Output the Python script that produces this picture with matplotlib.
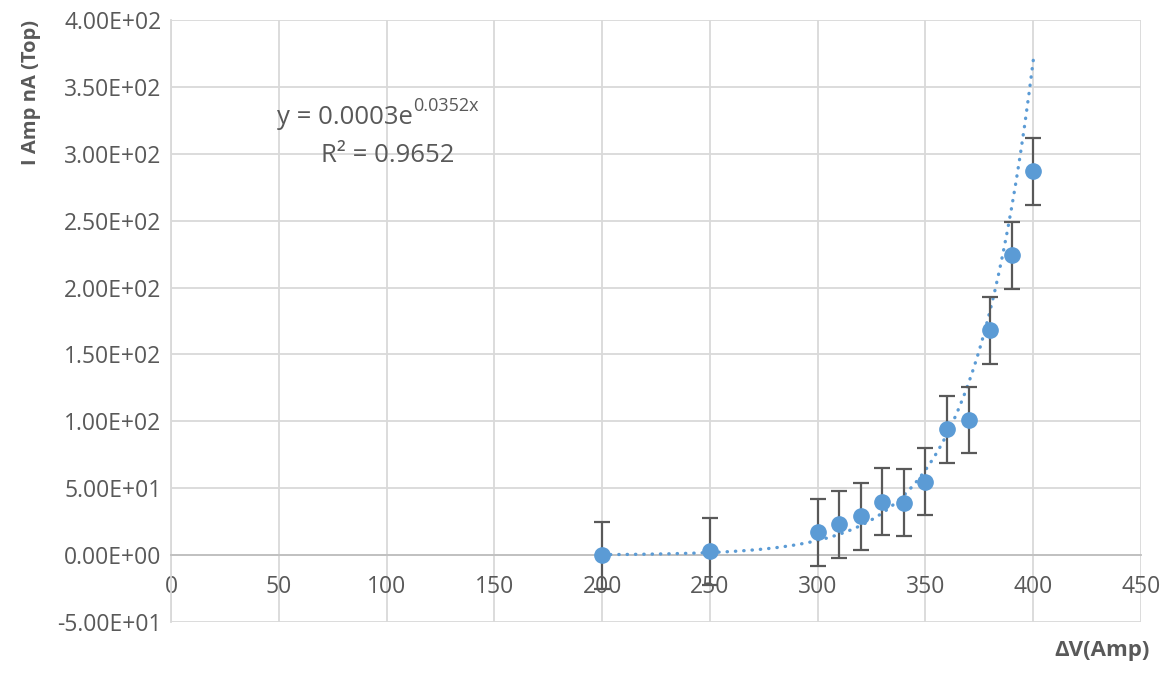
import numpy as np
import matplotlib.pyplot as plt
from matplotlib.ticker import FuncFormatter

plt.rcParams['font.family'] = ['Open Sans', 'DejaVu Sans']

# data
dv = [200, 250, 300, 310, 320, 330, 340, 350, 360, 370, 380, 390, 400]
current = [0, 3, 17, 23, 29, 40, 39, 55, 94, 101, 168, 224, 287]
err = [25] * len(dv)

# exponential trend line shown on the chart
trend_a = 0.000284
trend_b = 0.0352

blue = '#5B9BD5'
grey = '#595959'
grid = '#D9D9D9'

fig = plt.figure(figsize=(11.64, 6.74), dpi=100)
ax = fig.add_axes([0.1469, 0.0772, 0.8334, 0.8931])

xs = np.linspace(200, 400, 200)
ax.plot(xs, trend_a * np.exp(trend_b * xs), color=blue, lw=2.4,
        linestyle=(0, (0.1, 2.4)), dash_capstyle='round', zorder=3)
ax.errorbar(dv, current, yerr=err, fmt='o', color=blue, ms=11,
            ecolor=grey, elinewidth=1.6, capsize=6, capthick=1.6, zorder=4)

ax.set_xlim(0, 450)
ax.set_ylim(-50, 400)
ax.set_xticks(np.arange(0, 451, 50))
ax.set_yticks(np.arange(-50, 401, 50))
ax.yaxis.set_major_formatter(FuncFormatter(lambda v, p: '%.2E' % v))
ax.grid(True, color=grid, lw=1.3, zorder=0)
ax.set_axisbelow(True)

for s in ['top', 'right']:
    ax.spines[s].set_visible(False)
ax.spines['left'].set_color(grid)
ax.spines['left'].set_linewidth(1.3)
ax.spines['bottom'].set_position(('data', 0))
ax.spines['bottom'].set_color('#BFBFBF')
ax.spines['bottom'].set_linewidth(1.3)
ax.tick_params(axis='both', length=0, labelsize=16.5, labelcolor=grey)
ax.tick_params(axis='x', pad=14)
ax.tick_params(axis='y', pad=7)

fig.text(0.027, 0.97, 'I Amp nA (Top)', rotation=90, ha='center', va='top',
         fontsize=14.5, fontweight='bold', color=grey)
fig.text(0.988, 0.02, 'ΔV(Amp)', ha='right', va='bottom',
         fontsize=16, fontweight='bold', color=grey)

fig.text(0.355, 0.826, 'y = 0.0003e', ha='right', va='center',
         fontsize=18.5, color=grey)
fig.text(0.355, 0.842, '0.0352x', ha='left', va='center',
         fontsize=13, color=grey)
fig.text(0.333, 0.770, 'R² = 0.9652', ha='center', va='center',
         fontsize=18.5, color=grey)

fig.savefig('out.png', dpi=100)
